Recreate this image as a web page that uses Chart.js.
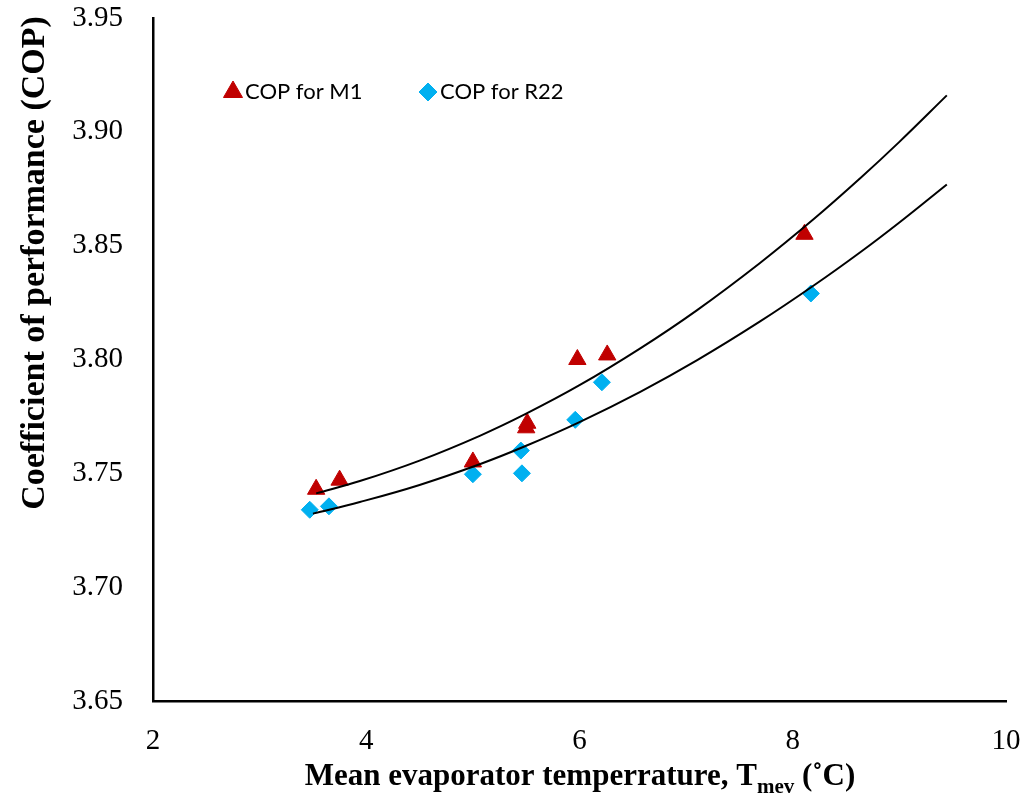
<!DOCTYPE html>
<html>
<head>
<meta charset="utf-8">
<script src="https://cdn.jsdelivr.net/npm/chart.js@4.4.1/dist/chart.umd.min.js"></script>
<style>
  html, body { margin: 0; padding: 0; background: #fff; }
  #cop { display: block; }
</style>
</head>
<body>
<canvas id="cop" width="1031" height="805"></canvas>
<script>
const m1Temp = [3.53, 3.75, 5.0, 5.50, 5.51, 5.98, 6.26, 8.11];
const m1Cop = [3.743, 3.747, 3.755, 3.770, 3.772, 3.800, 3.802, 3.855];
const r22Temp = [3.47, 3.65, 5.0, 5.45, 5.46, 5.96, 6.21, 8.17];
const r22Cop = [3.734, 3.7355, 3.7496, 3.760, 3.750, 3.7735, 3.790, 3.829];

// trendline points
const trendTemp = [3.5, 3.94, 4.5, 5.07, 5.5, 6.0, 6.57, 7.1, 7.69, 8.2, 8.63, 9.0, 9.445];
const trendM1 = [3.7412, 3.7466, 3.7556, 3.7666, 3.7762, 3.7887, 3.8049, 3.8216, 3.8423, 3.8618, 3.8795, 3.8956, 3.916];
const trendR22 = [3.7323, 3.7374, 3.7449, 3.7541, 3.7621, 3.7725, 3.7858, 3.7996, 3.8166, 3.8326, 3.847, 3.8602, 3.8769];

const yTicks = [3.65, 3.70, 3.75, 3.80, 3.85, 3.90, 3.95];
const xTicks = [2, 4, 6, 8, 10];

const redM1 = '#C00000';
const blueR22 = '#00B0F0';

function toPoints(xs, ys) {
    return xs.map((x, i) => ({ x: x, y: ys[i] }));
}

// first point of M1 curve sits a bit right of the R22 one
const trendTempM1 = trendTemp.slice();
trendTempM1[0] = 3.53;

const serif = '"Liberation Serif", "Times New Roman", serif';

const titles = {
    id: 'titles',
    afterDraw(chart) {
        const ctx = chart.ctx;
        const area = chart.chartArea;
        ctx.save();
        ctx.fillStyle = '#000';

        // x axis title with subscript
        const big = 'bold 31px ' + serif;
        const small = 'bold 21px ' + serif;
        const partA = 'Mean evaporator temperrature, T';
        const partB = 'mev';
        const partC = ' (\u02DAC)';
        ctx.font = big;
        const wA = ctx.measureText(partA).width;
        const wC = ctx.measureText(partC).width;
        ctx.font = small;
        const wB = ctx.measureText(partB).width;
        let x = 580 - (wA + wB + wC) / 2;
        const base = 785;
        ctx.textBaseline = 'alphabetic';
        ctx.textAlign = 'left';
        ctx.font = big;
        ctx.fillText(partA, x, base);
        x += wA;
        ctx.font = small;
        ctx.fillText(partB, x, base + 8);
        x += wB;
        ctx.font = big;
        ctx.fillText(partC, x, base);

        // y axis title
        ctx.save();
        ctx.translate(44, 263);
        ctx.rotate(-Math.PI / 2);
        ctx.textAlign = 'center';
        ctx.font = 'bold 34px ' + serif;
        ctx.fillText('Coefficient of performance (COP)', 0, 0);
        ctx.restore();

        // legend
        const ly = area.top + 73;
        ctx.font = '22px Lato, "Open Sans", sans-serif';
        ctx.textBaseline = 'middle';
        ctx.textAlign = 'left';
        const items = [
            { ds: chart.data.datasets[0], x: area.left + 80, r: 11 },
            { ds: chart.data.datasets[1], x: area.left + 275, r: 9 }
        ];
        items.forEach(it => {
            ctx.fillStyle = it.ds.backgroundColor;
            ctx.strokeStyle = it.ds.borderColor;
            Chart.helpers.drawPoint(ctx, {
                pointStyle: it.ds.pointStyle,
                radius: it.r,
                borderWidth: 1
            }, it.x, ly + 1);
            ctx.fillStyle = '#000';
            ctx.fillText(it.ds.label, it.x + 12, ly + 1);
        });
        ctx.restore();
    }
};

const ctx = document.getElementById('cop').getContext('2d');
new Chart(ctx, {
    type: 'scatter',
    data: {
        datasets: [{
            label: 'COP for M1',
            data: toPoints(m1Temp, m1Cop),
            pointStyle: 'triangle',
            pointRadius: 10,
            backgroundColor: redM1,
            borderColor: redM1,
            borderWidth: 1,
            order: 1
        }, {
            label: 'COP for R22',
            data: toPoints(r22Temp, r22Cop),
            pointStyle: 'rectRot',
            pointRadius: 8.5,
            backgroundColor: blueR22,
            borderColor: blueR22,
            borderWidth: 1,
            order: 2
        }, {
            label: 'trend M1',
            data: toPoints(trendTempM1, trendM1),
            showLine: true,
            borderColor: '#000',
            borderWidth: 2,
            pointRadius: 0,
            tension: 0.4,
            order: 0
        }, {
            label: 'trend R22',
            data: toPoints(trendTemp, trendR22),
            showLine: true,
            borderColor: '#000',
            borderWidth: 2,
            pointRadius: 0,
            tension: 0.4,
            order: 0
        }]
    },
    options: {
        responsive: false,
        animation: false,
        layout: { padding: { top: 18, right: 25, left: 0, bottom: 0 } },
        plugins: {
            legend: { display: false },
            tooltip: { enabled: false }
        },
        scales: {
            x: {
                type: 'linear',
                min: 2,
                max: 10,
                afterFit: s => {
                    s.height = 104;
                    s.paddingLeft = 0;
                    s.paddingRight = 0;
                },
                afterBuildTicks: s => { s.ticks = xTicks.map(v => ({ value: v })); },
                grid: { display: false, drawTicks: false },
                border: { display: true, color: '#000', width: 2.5 },
                ticks: {
                    padding: 23,
                    color: '#000',
                    font: { family: serif, size: 29 }
                }
            },
            y: {
                min: 3.65,
                max: 3.95,
                afterFit: s => {
                    s.width = 153;
                    s.paddingTop = 0;
                    s.paddingBottom = 0;
                },
                afterBuildTicks: s => { s.ticks = yTicks.map(v => ({ value: v })); },
                grid: { display: false, drawTicks: false },
                border: { display: true, color: '#000', width: 2.5 },
                ticks: {
                    padding: 30,
                    color: '#000',
                    callback: v => v.toFixed(2),
                    font: { family: serif, size: 29 }
                }
            }
        }
    },
    plugins: [titles]
});
</script>
</body>
</html>
